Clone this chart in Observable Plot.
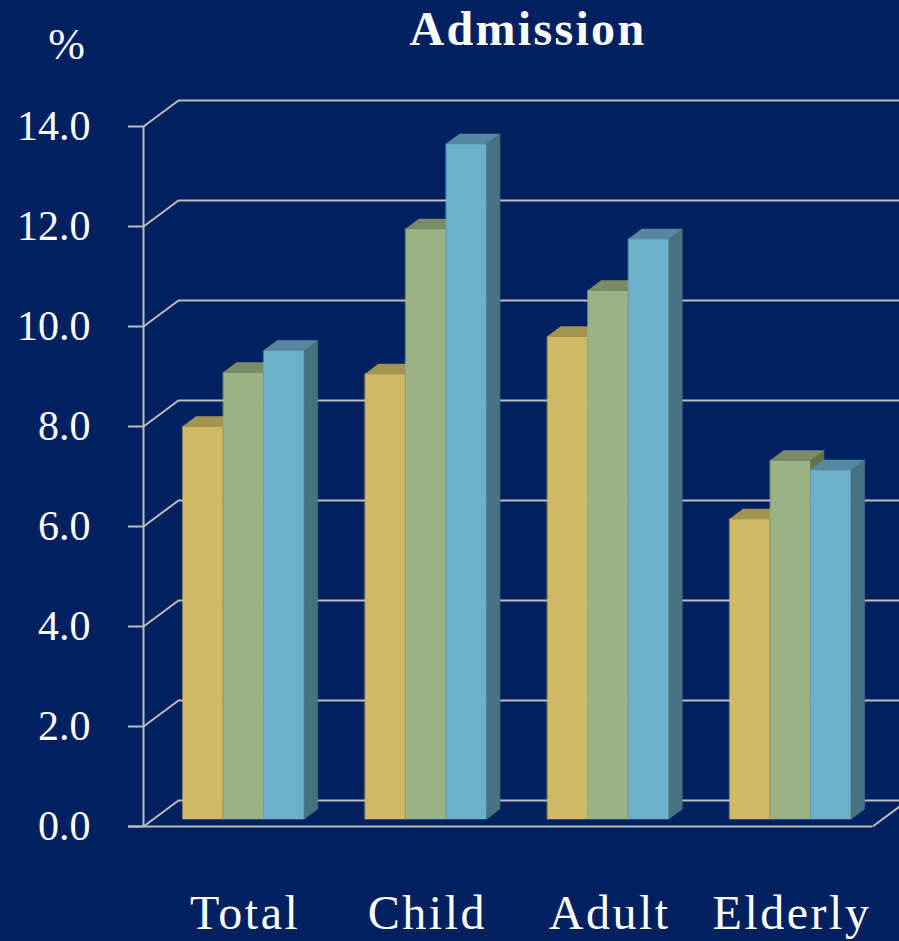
<!DOCTYPE html>
<html>
<head>
<meta charset="utf-8">
<script src="https://cdn.jsdelivr.net/npm/d3@7"></script>
<script src="https://cdn.jsdelivr.net/npm/@observablehq/plot@0.6"></script>
<style>
  html, body { margin: 0; padding: 0; background: #002060; }
  #chart svg { display: block; }
</style>
</head>
<body>
<div id="chart"></div>
<script>
// Admission rates (%) by age group, three series per group
const categories = ["Total", "Child", "Adult", "Elderly"];
const seriesNames = ["Series 1", "Series 2", "Series 3"];
const series1 = [7.85, 8.9, 9.65, 6.0];
const series2 = [8.93, 11.8, 10.57, 7.17];
const series3 = [9.37, 13.5, 11.6, 6.98];
const yTicks = [0, 2, 4, 6, 8, 10, 12, 14];
const yTickLabels = ["0.0", "2.0", "4.0", "6.0", "8.0", "10.0", "12.0", "14.0"];
const title = "Admission";
const unitLabel = "%";

// colours: front, top and side faces per series
const faceColors = [
  {front: "#cfb967", top: "#a39350", side: "#837543"},
  {front: "#9bb384", top: "#7a8b66", side: "#62714f"},
  {front: "#6db0cb", top: "#56899f", side: "#477381"}
];
const bg = "#002060";
const grid = "#bdbdbd";
const font = "'Liberation Serif', 'DejaVu Serif', serif";

// layout of the 3D box: x is measured in category slots, y in percent
const W = 899, H = 941;
const slotPx = 182.3, axisPx = 143, zeroPx = 826, unitPx = 50;
const DX = 35 / slotPx;          // depth of the floor, in slots
const DY = 26 / unitPx;          // depth of the floor, in percent
const tickLen = 15 / slotPx;
const barW = 1 / 4.5;            // gap width 150 %
const f0 = 0.27, f1 = 0.65;      // front and back of bars within the depth

const values = [series1, series2, series3];

// build polygon faces (front, top, side) for every bar, drawn back-to-front
const faces = [];
categories.forEach((c, i) => {
  values.forEach((vals, j) => {
    const v = vals[i];
    const xl = i + (1 - 3 * barW) / 2 + j * barW + f0 * DX;
    const xr = xl + barW;
    const base = f0 * DY;
    const top = v + f0 * DY;
    const ox = (f1 - f0) * DX, oy = (f1 - f0) * DY;
    const col = faceColors[j];
    const id = `${c}-${j}`;
    faces.push({id: id + "-front", fill: col.front, x: xl, y1: base, y2: top});
    faces.push({id: id + "-front", fill: col.front, x: xr, y1: base, y2: top});
    faces.push({id: id + "-top", fill: col.top, x: xl, y1: top, y2: top});
    faces.push({id: id + "-top", fill: col.top, x: xl + ox, y1: top, y2: top + oy});
    faces.push({id: id + "-top", fill: col.top, x: xr, y1: top, y2: top + oy});
    faces.push({id: id + "-top", fill: col.top, x: xr + ox, y1: top + oy, y2: top + oy});
    faces.push({id: id + "-side", fill: col.side, x: xr, y1: base, y2: top});
    faces.push({id: id + "-side", fill: col.side, x: xr + ox, y1: base + oy, y2: top + oy});
  });
});

const n = categories.length;

const chart = Plot.plot({
  width: W,
  height: H,
  marginTop: 0, marginRight: 0, marginBottom: 0, marginLeft: 0,
  style: {background: bg, fontFamily: font},
  x: {type: "linear", domain: [-axisPx / slotPx, (W - axisPx) / slotPx], range: [0, W], axis: null},
  y: {domain: [(zeroPx - H) / unitPx, zeroPx / unitPx], range: [H, 0], axis: null},
  color: {type: "identity"},
  marks: [
    // back wall gridlines
    Plot.ruleY(yTicks, {y: d => d + DY, x1: DX, x2: n + DX, stroke: grid, strokeWidth: 2}),
    // side wall diagonals
    Plot.link(yTicks, {x1: 0, y1: d => d, x2: DX, y2: d => d + DY, stroke: grid, strokeWidth: 2}),
    // floor front edge and right diagonal
    Plot.ruleY([0], {x1: -tickLen, x2: n, stroke: grid, strokeWidth: 2}),
    Plot.link([0], {x1: n, y1: 0, x2: n + DX, y2: DY, stroke: grid, strokeWidth: 2}),
    // value axis with tick marks
    Plot.ruleX([0], {y1: 0, y2: yTicks[yTicks.length - 1], stroke: grid, strokeWidth: 2}),
    Plot.ruleY(yTicks, {y: d => d, x1: -tickLen, x2: 0, stroke: grid, strokeWidth: 2}),
    // bars
    Plot.area(faces, {x1: "x", y1: "y1", y2: "y2", z: "id", fill: "fill", stroke: "fill", strokeWidth: 0.6}),
    // tick labels
    Plot.text(yTicks, {x: 0, y: d => d, text: (d, i) => yTickLabels[i], dx: -53, textAnchor: "end",
      lineAnchor: "middle", fontSize: 42, fill: "white"}),
    // category labels
    Plot.text(categories, {x: (d, i) => i + 0.5 + f0 * DX, text: d => d, frameAnchor: "bottom",
      lineAnchor: "bottom", dy: -13, dx: 1, fontSize: 48, fill: "white",
      style: "letter-spacing: 2.5px"}),
    // unit label and title
    Plot.text([unitLabel], {frameAnchor: "top-left", lineAnchor: "bottom", textAnchor: "middle",
      dx: 66, dy: 58, fontSize: 44, fill: "white"}),
    Plot.text([title], {frameAnchor: "top", lineAnchor: "bottom", dx: 78, dy: 44,
      fontSize: 48, fontWeight: "bold", fill: "white"})
  ]
});

// widen the lettering of the title and category labels slightly
chart.querySelectorAll("text").forEach(t => {
  const s = t.textContent;
  if (s === title) t.setAttribute("letter-spacing", "2.3");
  if (categories.includes(s)) t.setAttribute("letter-spacing", "2.5");
});

document.getElementById("chart").append(chart);
</script>
</body>
</html>
